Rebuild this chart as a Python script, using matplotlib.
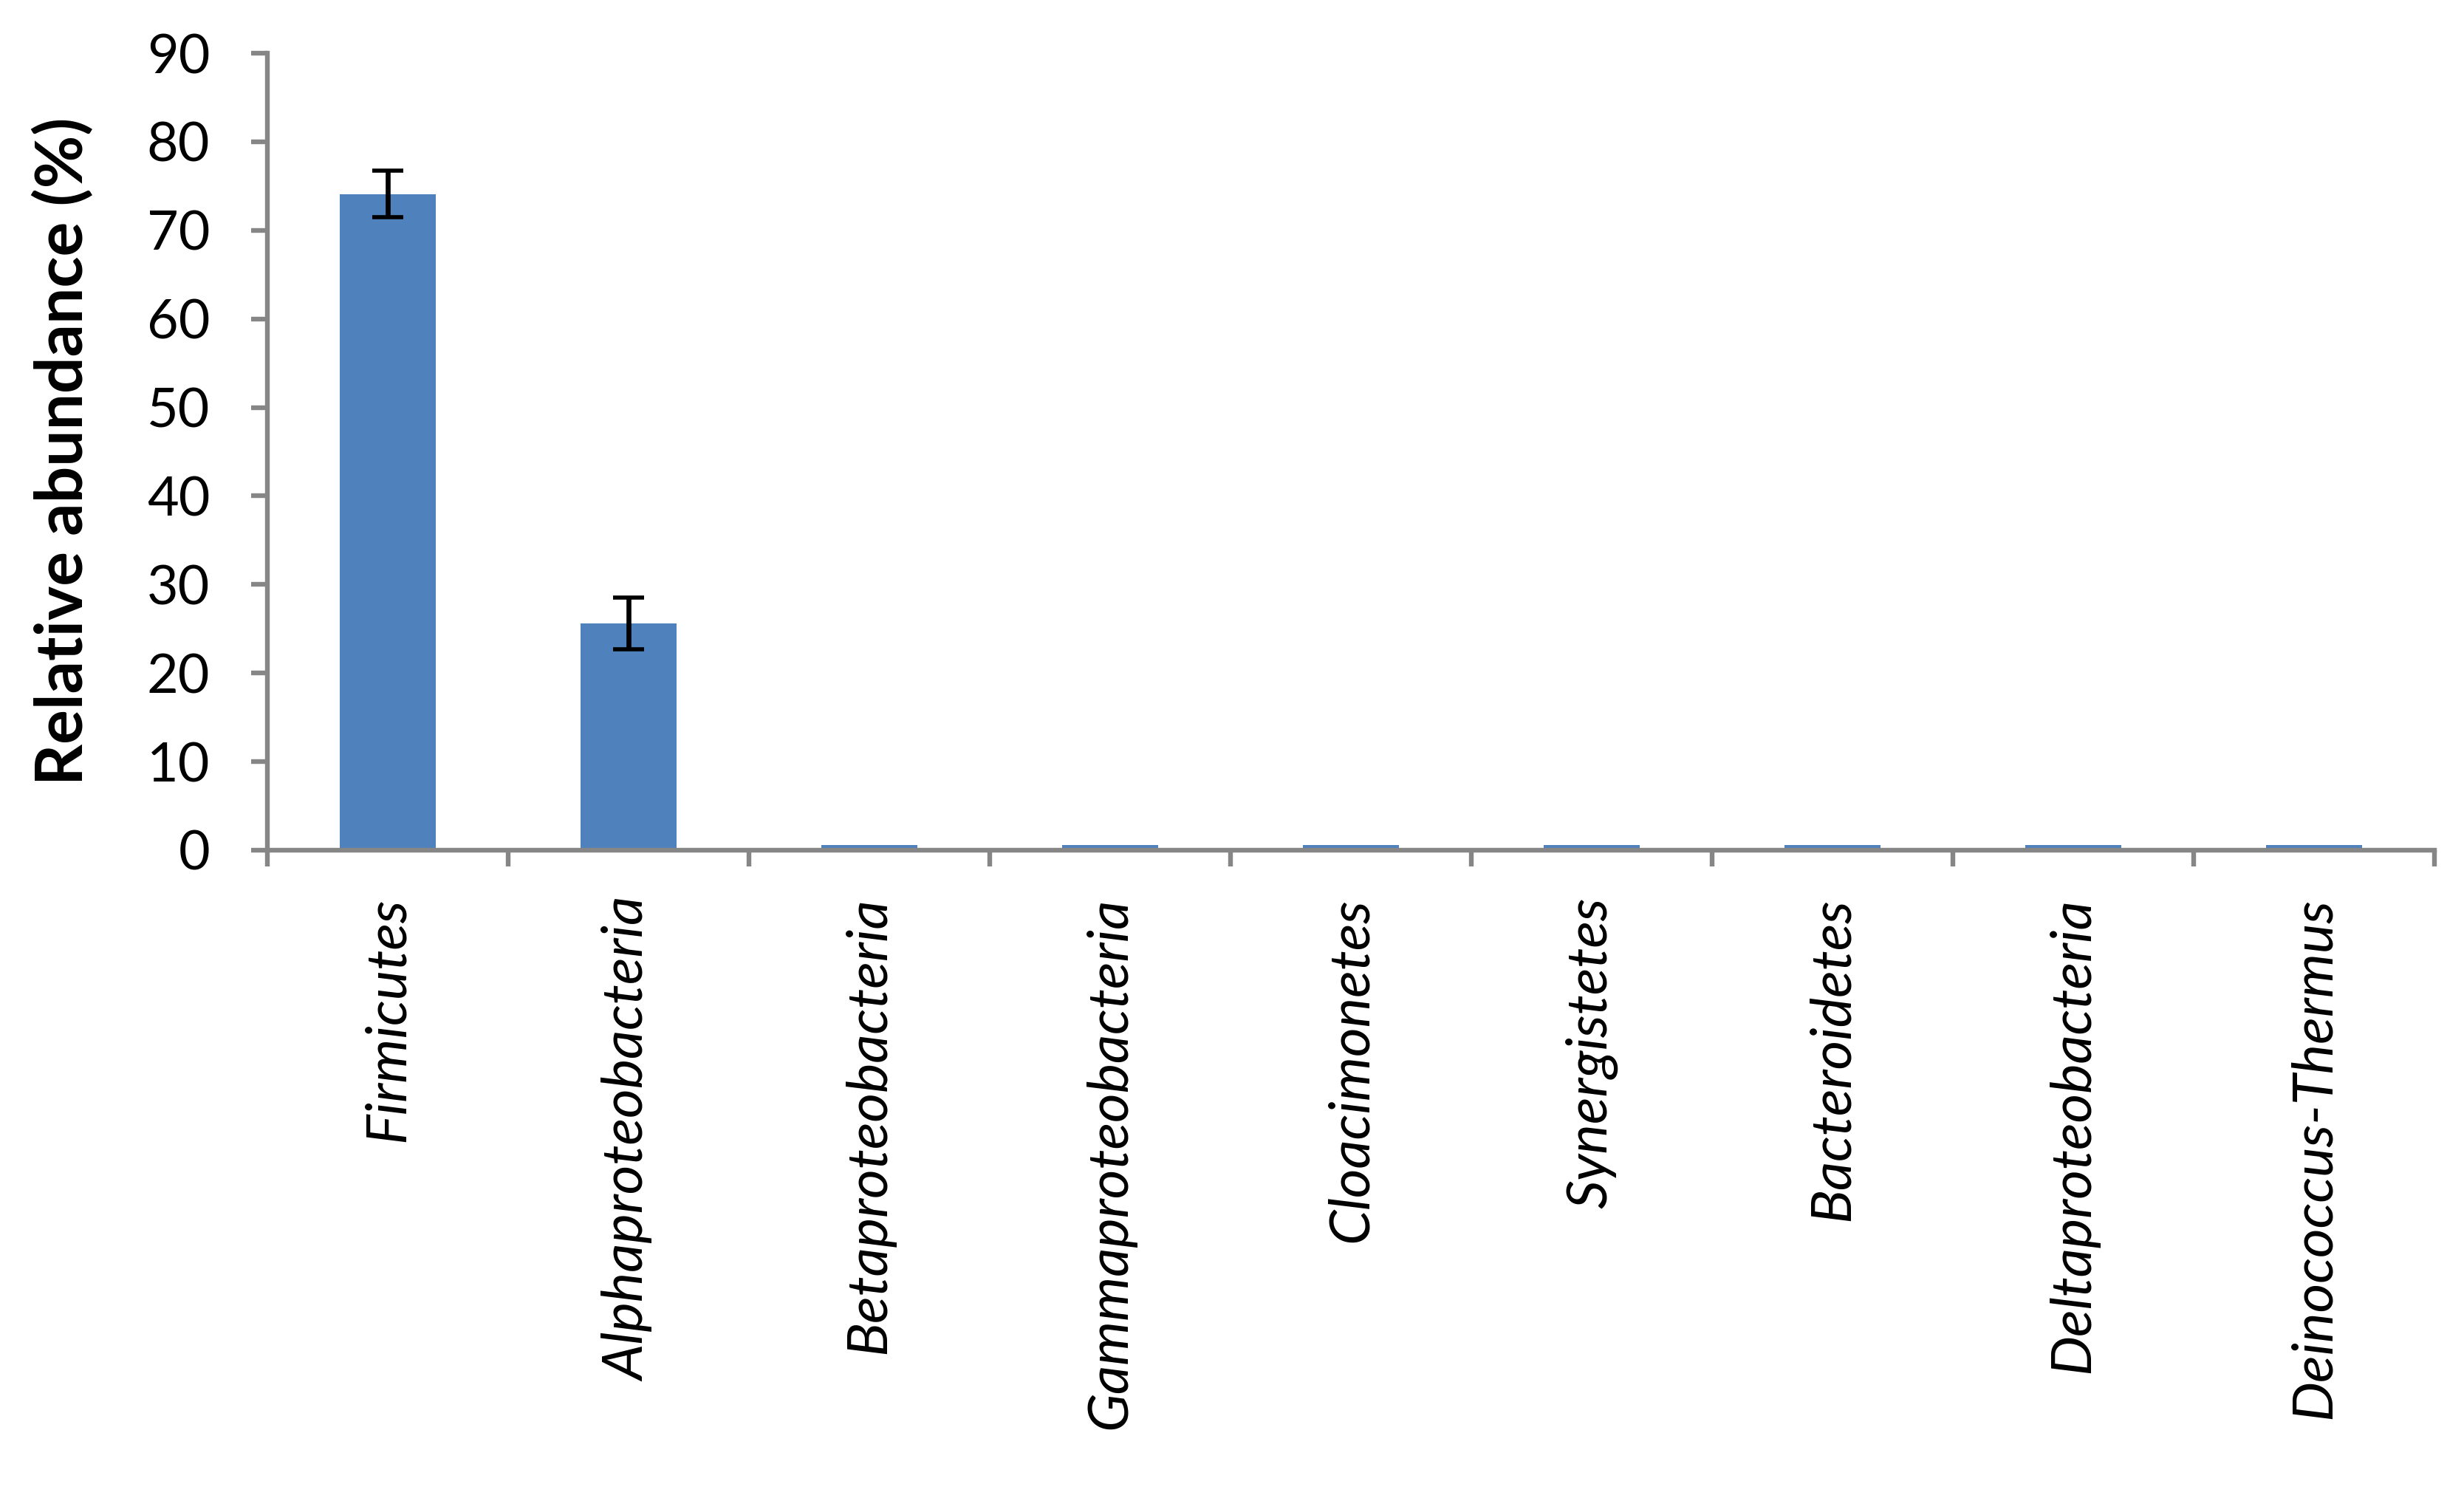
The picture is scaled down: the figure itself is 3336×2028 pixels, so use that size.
import matplotlib
matplotlib.use("Agg")
import matplotlib.pyplot as plt
import numpy as np

categories = ["Firmicutes", "Alphaproteobacteria", "Betaproteobacteria",
              "Gammaproteobacteria", "Cloacimonetes", "Synergistetes",
              "Bacteroidetes", "Deltaproteobacteria", "Deinococcus-Thermus"]
values = [74.1, 25.6, 0.6, 0.6, 0.6, 0.6, 0.6, 0.6, 0.6]
errors = [2.6, 2.9, 0, 0, 0, 0, 0, 0, 0]
yticks = [0, 10, 20, 30, 40, 50, 60, 70, 80, 90]

plt.rcParams['font.family'] = ['Lato', 'DejaVu Sans']

W, H, DPI = 3336, 2028, 200
fig = plt.figure(figsize=(W / DPI, H / DPI), dpi=DPI)
ax = fig.add_axes([362 / W, 1 - 1151 / H, (3296 - 362) / W, (1151 - 72) / H])

x = np.arange(len(categories))
ax.bar(x, values, width=0.4, color="#4F81BD", zorder=2)
err_idx = [i for i, e in enumerate(errors) if e > 0]
ax.errorbar([x[i] for i in err_idx], [values[i] for i in err_idx],
            yerr=[errors[i] for i in err_idx], fmt="none", ecolor="black",
            elinewidth=2.4, capsize=7.5, capthick=2.0, zorder=3)

ax.set_xlim(-0.5, len(categories) - 0.5)
ax.set_ylim(0, 90)

axis_color = "#868686"
for s in ["top", "right"]:
    ax.spines[s].set_visible(False)
for s in ["left", "bottom"]:
    ax.spines[s].set_color(axis_color)
    ax.spines[s].set_linewidth(2.3)
    ax.spines[s].set_zorder(4)

ax.set_yticks(yticks)
ax.set_yticklabels([str(t) for t in yticks])
ax.tick_params(axis="y", direction="out", length=8, width=2.3, color=axis_color,
               labelsize=26.5, pad=20)

ax.set_xticks(np.arange(-0.5, len(categories), 1.0))
ax.set_xticklabels([])
ax.set_xticks(x, minor=True)
ax.set_xticklabels(categories, minor=True, rotation=90, fontstyle="italic",
                   fontsize=27.5, va="top", ha="center")
ax.tick_params(axis="x", which="major", direction="out", length=8, width=2.3,
               color=axis_color)
ax.tick_params(axis="x", which="minor", length=0, pad=23)

fig.text(85 / W, 1 - 611 / H, "Relative abundance (%)", rotation=90,
         ha="center", va="center", fontsize=31.5, fontweight="bold")

fig.savefig("out.png", dpi=DPI, facecolor="white")
